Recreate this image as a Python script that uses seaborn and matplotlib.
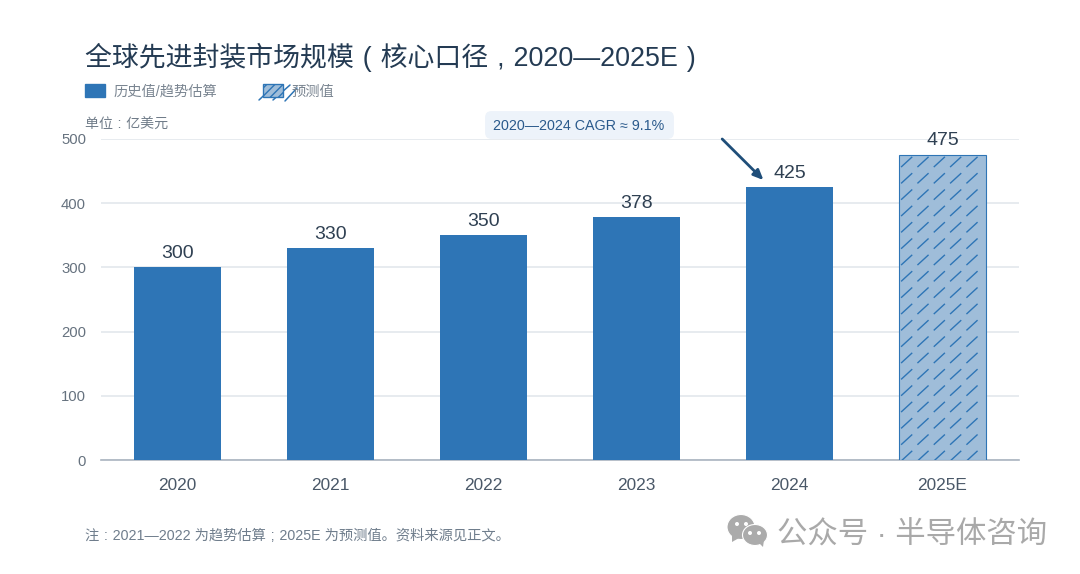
import numpy as np
import pandas as pd
import seaborn as sns
import matplotlib
matplotlib.use("Agg")
import matplotlib.pyplot as plt
from matplotlib import hatch as mhatch
from matplotlib.lines import Line2D
from matplotlib.path import Path
from matplotlib.patches import Patch, Ellipse, Polygon, FancyBboxPatch

years = ["2020", "2021", "2022", "2023", "2024", "2025E"]
values = [300, 330, 350, 378, 425, 475]
kinds = ["历史值/趋势估算"] * 5 + ["预测值"]
yticks = [0, 100, 200, 300, 400, 500]

BLUE = "#2e75b6"
FILL = "#9fbdd9"
W, H = 1080, 574
DPI = 98  # hatch tile is one inch, so this gives a 16.33 px stroke grid


def pt(x):
    return x * 100 / DPI


class ShortSlash(mhatch.HatchPatternBase):
    """Isolated short diagonal strokes, repeated on a regular grid."""
    def __init__(self, hatch, density):
        self.n = hatch.count("*") * 6
        self.cols = self.n - 1 if self.n else 0   # one column falls on the bar's edge: left empty
        self.rows = self.n + 1 if self.n else 0
        self.num_vertices = self.cols * self.rows * 2
        self.num_lines = self.cols * self.rows

    def set_vertices_and_codes(self, vertices, codes):
        s = 1.0 / self.n if self.n else 1
        i = 0
        for a in range(1, self.n):
            for b in range(-1, self.n):
                vertices[i] = ((a + 0.20) * s, (b + 0.80) * s)
                vertices[i + 1] = ((a + 0.82) * s, (b + 1.37) * s)
                codes[i] = Path.MOVETO
                codes[i + 1] = Path.LINETO
                i += 2


mhatch._hatch_types[:] = [t for t in mhatch._hatch_types if t is not mhatch.Stars] + [ShortSlash]

sns.set_theme(style="white")
plt.rcParams["font.family"] = ["Liberation Sans", "Noto Sans CJK SC"]
plt.rcParams["hatch.linewidth"] = pt(1.0)
plt.rcParams["hatch.color"] = BLUE

fig = plt.figure(figsize=(W / DPI, H / DPI), dpi=DPI, facecolor="white")
ax = fig.add_axes([101 / W, 1 - 460 / H, 918 / W, 321 / H])

df = pd.DataFrame({"year": years, "value": values, "kind": kinds})
sns.barplot(data=df, x="year", y="value", color=BLUE, width=0.57,
            saturation=1, ax=ax, zorder=3, edgecolor="none")

last = ax.patches[len(years) - 1]
last.set_facecolor(FILL)
last.set_edgecolor(BLUE)
last.set_linewidth(pt(0.8))
last.set_hatch("*")

ax.set_xlim(-0.5, len(years) - 0.5)
ax.set_ylim(0, 500)
ax.set_yticks(yticks)
ax.set_xlabel("")
ax.set_ylabel("")
ax.grid(axis="y", color="#e3e7ec", linewidth=pt(1.2), zorder=0)
ax.set_axisbelow(True)
for side in ("top", "left", "right"):
    ax.spines[side].set_visible(False)
ax.spines["bottom"].set_color("#aab4c0")
ax.spines["bottom"].set_linewidth(pt(1.2))
ax.tick_params(axis="x", length=0, labelsize=pt(12.4), labelcolor="#4a5868", pad=pt(12.8))
ax.tick_params(axis="y", length=0, labelsize=pt(10.7), labelcolor="#66727f", pad=pt(10.8))

for bar, v in zip(ax.patches, values):
    ax.annotate(str(v), (bar.get_x() + bar.get_width() / 2, v), xytext=(0, pt(4)),
                textcoords="offset points", ha="center", va="bottom",
                fontsize=pt(14), color="#2f4052", zorder=6)

# CAGR callout
fig.patches.append(FancyBboxPatch((491 / W, 1 - 133 / H), 177 / W, 16 / H,
                                  boxstyle="round,pad=0.0055,rounding_size=0.006",
                                  transform=fig.transFigure, facecolor="#edf3fa",
                                  edgecolor="none", zorder=5, mutation_aspect=W / H))
fig.text(579 / W, 1 - 126 / H, "2020—2024 CAGR ≈ 9.1%", ha="center", va="center",
         fontsize=pt(10.3), color="#2a5a8c", zorder=6)
ax.annotate("", xy=(3.83, 436), xytext=(3.56, 500),
            arrowprops=dict(arrowstyle="-|>,head_length=0.5,head_width=0.22",
                            color="#1f4e79", lw=pt(2), shrinkA=0, shrinkB=0), zorder=6)

# Title and sub-labels
SP = "\u2004"
fig.text(85 / W, 1 - 57 / H, f"全球先进封装市场规模{SP}({SP}核心口径{SP},{SP}2020—2025E{SP})", ha="left", va="center",
         fontsize=pt(19.4), color="#243b53")
fig.text(85 / W, 1 - 124 / H, f"单位{SP}:{SP}亿美元", ha="left", va="center",
         fontsize=pt(10.1), color="#707c89")
fig.text(85 / W, 1 - 536 / H, f"注{SP}:{SP}2021—2022 为趋势估算{SP};{SP}2025E 为预测值。资料来源见正文。", ha="left", va="center",
         fontsize=pt(10.3), color="#6f7d8c")

# Legend
handles = [Patch(facecolor=BLUE, edgecolor=BLUE, label=kinds[0]),
           Patch(facecolor=FILL, edgecolor=BLUE, label=kinds[-1], hatch="////")]
fig.legend(handles=handles, loc="upper left", bbox_to_anchor=(85 / W, 1 - 84 / H),
           ncol=2, frameon=False, fontsize=pt(10.3), labelcolor="#7a8591",
           handlelength=1.4, handleheight=1.05, handletextpad=0.56,
           columnspacing=3.25, borderpad=0, borderaxespad=0)
# the swatch's hatch runs past its edge in the reference
for x0, y0, x1, y1 in [(259, 100, 275, 85), (273, 100, 290, 85), (285, 101, 297, 88)]:
    fig.add_artist(Line2D([x0 / W, x1 / W], [1 - y0 / H, 1 - y1 / H], color=BLUE, lw=pt(1.1),
                          transform=fig.transFigure))

# Watermark
icon = "#ababab"
for cx, cy, w, h, tail in [(741, 527, 28, 25, [(732, 535), (739, 538), (732, 542)]),
                           (755, 535, 25, 21, [(758, 542), (764, 540), (763, 547)])]:
    fig.patches.append(Ellipse((cx / W, 1 - cy / H), w / W, h / H, transform=fig.transFigure,
                               facecolor=icon, edgecolor="white", linewidth=pt(0.8), zorder=7))
    fig.patches.append(Polygon([(x / W, 1 - y / H) for x, y in tail], transform=fig.transFigure,
                               facecolor=icon, edgecolor="none", zorder=7))
for cx, cy in [(737, 524), (746, 524), (750, 533), (759, 533)]:
    fig.patches.append(Ellipse((cx / W, 1 - cy / H), 4 / W, 4 / H, transform=fig.transFigure,
                               facecolor="white", edgecolor="none", zorder=8))
fig.text(777 / W, 1 - 535 / H, "公众号 · 半导体咨询", ha="left", va="center",
         fontsize=pt(21.9), color="#a9a9a9", zorder=8)

fig.savefig("out.png", dpi=DPI, facecolor="white")
